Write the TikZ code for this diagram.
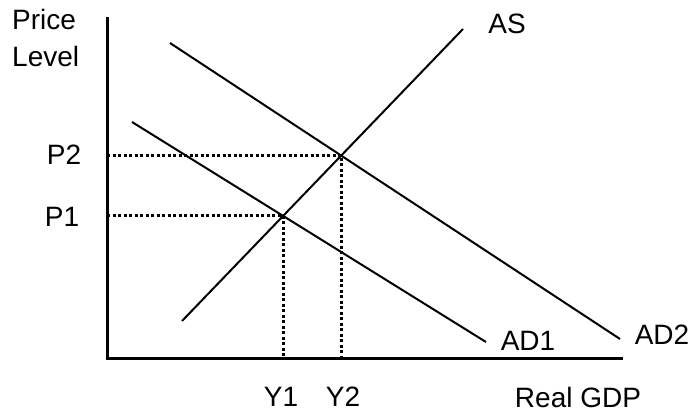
\documentclass[tikz,border=0pt]{standalone}
\usepackage{fontspec}
\setmainfont{Liberation Sans}
\usetikzlibrary{intersections}
\begin{document}
\begin{tikzpicture}[x=1pt,y=-1pt,
  axisline/.style={line width=3pt},
  curve/.style={line width=2pt},
  guide/.style={line width=3pt,dash pattern=on 3pt off 2.5pt},
  lbl/.style={font=\fontsize{28}{37}\selectfont,inner sep=0pt}]
\useasboundingbox (0,0) rectangle (696,414);
% axes
\coordinate (o) at (107,358);
\coordinate (ytop) at (107,17);
\coordinate (xend) at (623,358);
\draw[axisline] (ytop) -- (o) -- (xend);
% curves
\coordinate (as0) at (182,321);
\coordinate (as1) at (463,29);
\coordinate (ad10) at (132,122);
\coordinate (ad11) at (486,342);
\coordinate (ad20) at (170,43);
\coordinate (ad21) at (620,339);
\draw[curve,name path=AS] (as0) -- (as1);
\draw[curve,name path=AD1] (ad10) -- (ad11);
\draw[curve,name path=AD2] (ad20) -- (ad21);
\path[name intersections={of=AS and AD1,by=e1}];
\path[name intersections={of=AS and AD2,by=e2}];
% guides
\draw[guide] (o |- e1) -- (e1) -- (e1 |- o);
\draw[guide] (o |- e2) -- (e2) -- (e2 |- o);
% labels
\node[lbl,anchor=north west,align=left] (pl) at (12,9) {Price\\Level};
\node[lbl] (as) at (507,24) {AS};
\node[lbl] (p2) at (64,155) {P2};
\node[lbl] (p1) at (62,217) {P1};
\node[lbl] (ad1) at (528,341) {AD1};
\node[lbl] (ad2) at (662,335) {AD2};
\node[lbl] (y1) at (281,397) {Y1};
\node[lbl] (y2) at (343,397) {Y2};
\node[lbl] (gdp) at (578,397) {Real GDP};
\end{tikzpicture}
\end{document}
